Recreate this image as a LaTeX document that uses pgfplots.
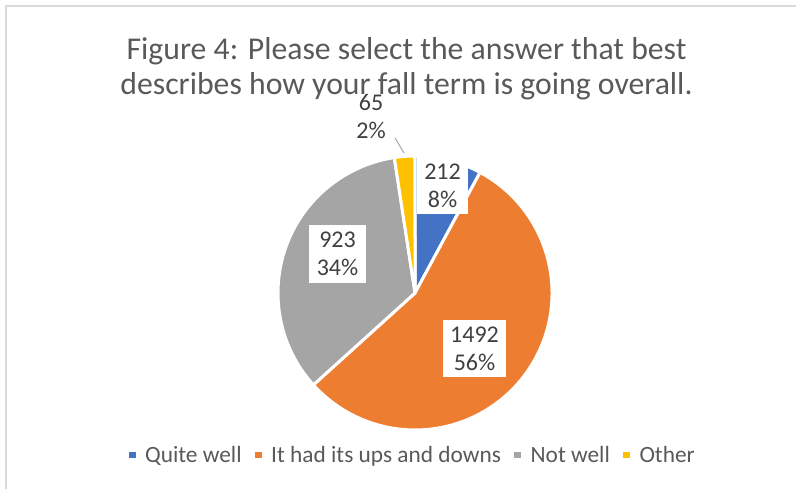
\documentclass[border=0pt]{standalone}
\usepackage{pgfplots}
\pgfplotsset{compat=1.18}
\usepackage{pgfplotstable}
\usepackage{fontspec}
\setmainfont{Carlito}

\definecolor{cBlue}{HTML}{4472C4}
\definecolor{cOrange}{HTML}{ED7D31}
\definecolor{cGray}{HTML}{A5A5A5}
\definecolor{cYellow}{HTML}{FFC000}
\definecolor{cTitle}{HTML}{595959}
\definecolor{cLab}{HTML}{404040}
\definecolor{cBorder}{HTML}{D9D9D9}

\pgfplotstableread[col sep=comma]{
answer,count
Quite well,212
It had its ups and downs,1492
Not well,923
Other,65
}\piedata

\pgfplotstablegetelem{0}{count}\of\piedata\edef\vA{\pgfplotsretval}
\pgfplotstablegetelem{1}{count}\of\piedata\edef\vB{\pgfplotsretval}
\pgfplotstablegetelem{2}{count}\of\piedata\edef\vC{\pgfplotsretval}
\pgfplotstablegetelem{3}{count}\of\piedata\edef\vD{\pgfplotsretval}
\pgfmathsetmacro\tot{\vA+\vB+\vC+\vD}
\pgfmathsetmacro\aA{90}
\pgfmathsetmacro\aB{\aA-360*(\vA/\tot)}
\pgfmathsetmacro\aC{\aB-360*(\vB/\tot)}
\pgfmathsetmacro\aD{\aC-360*(\vC/\tot)}
\pgfmathsetmacro\aE{\aD-360*(\vD/\tot)}

\begin{document}
\begin{tikzpicture}
\useasboundingbox (0,0) rectangle (597pt,366.75pt);
\begin{axis}[
  at={(0,0)}, anchor=south west,
  scale only axis, width=597pt, height=366.75pt,
  xmin=0, xmax=796, ymin=0, ymax=489,
  hide axis, clip=false,
  legend columns=-1,
  legend image code/.code={\fill[#1] (0pt,-2.6pt) rectangle (5.2pt,2.6pt);},
  legend style={
    at={(0.519,0.0695)}, anchor=center, draw=none, fill=none,
    font=\fontsize{17.5}{21}\selectfont, text=cTitle,
    /tikz/every even column/.append style={column sep=8pt},
    /tikz/every odd column/.append style={column sep=5pt},
  },
]
\addlegendimage{fill=cBlue, draw=none}
\addlegendentry{Quite well}
\addlegendimage{fill=cOrange, draw=none}
\addlegendentry{It had its ups and downs}
\addlegendimage{fill=cGray, draw=none}
\addlegendentry{Not well}
\addlegendimage{fill=cYellow, draw=none}
\addlegendentry{Other}

% border
\draw[cBorder, line width=1.5pt] (axis cs:6,-5) -- (axis cs:6,483) -- (axis cs:800,483);

% pie wedges
\fill[cBlue, draw=white, line width=2.25pt, line join=round] (axis cs:415,196) -- ++(\aA:102.75pt) arc[start angle=\aA, end angle=\aB, radius=102.75pt] -- cycle;
\fill[cOrange, draw=white, line width=2.25pt, line join=round] (axis cs:415,196) -- ++(\aB:102.75pt) arc[start angle=\aB, end angle=\aC, radius=102.75pt] -- cycle;
\fill[cGray, draw=white, line width=2.25pt, line join=round] (axis cs:415,196) -- ++(\aC:102.75pt) arc[start angle=\aC, end angle=\aD, radius=102.75pt] -- cycle;
\fill[cYellow, draw=white, line width=2.25pt, line join=round] (axis cs:415,196) -- ++(\aD:102.75pt) arc[start angle=\aD, end angle=\aE, radius=102.75pt] -- cycle;

% data labels
\tikzset{lab/.style={fill=white, text=cLab, font=\fontsize{18}{21}\selectfont, align=center, inner xsep=5.5pt, inner ysep=5pt}}
\node[lab] at (axis cs:442.5,303.5) {212\\8\%};
\node[lab] at (axis cs:337.5,235) {923\\34\%};
\node[lab] at (axis cs:474.5,140.5) {1492\\56\%};
\draw[cGray, line width=0.75pt] (axis cs:395,351) -- (axis cs:404,336);
\node[text=cLab, font=\fontsize{18}{21}\selectfont, align=center, inner sep=0pt] at (axis cs:371,372) {65\\2\%};

% title
\node[anchor=base, text=cTitle, font=\fontsize{23.8}{28}\selectfont, inner sep=0pt] at (axis cs:406.5,429) {Figure 4: Please select the answer that best};
\node[anchor=base, text=cTitle, font=\fontsize{23.8}{28}\selectfont, inner sep=0pt] at (axis cs:406.5,394) {describes how your fall term is going overall.};
\end{axis}
\end{tikzpicture}
\end{document}
